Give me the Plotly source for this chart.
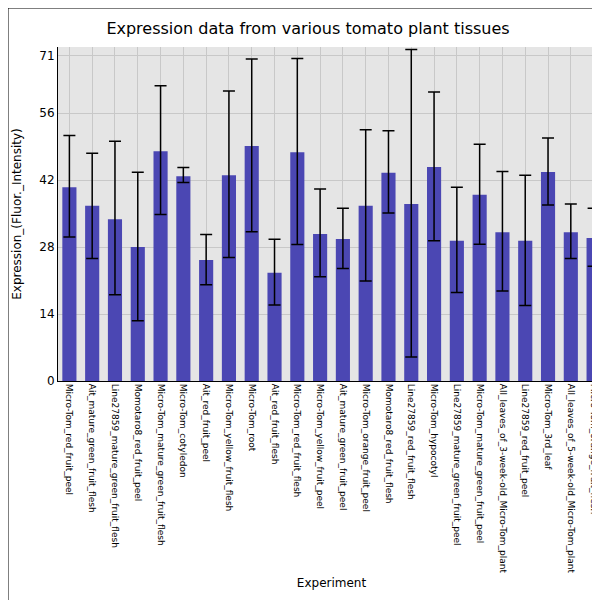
import plotly.graph_objects as go

# Data
tissues = [
    "Micro-Tom_red_fruit_peel", "Ait_mature_green_fruit_flesh", "Line27859_mature_green_fruit_flesh",
    "Momotaro8_red_fruit_peel", "Micro-Tom_mature_green_fruit_flesh", "Micro-Tom_cotyledon",
    "Ait_red_fruit_peel", "Micro-Tom_yellow_fruit_flesh", "Micro-Tom_root", "Ait_red_fruit_flesh",
    "Micro-Tom_red_fruit_flesh", "Micro-Tom_yellow_fruit_peel", "Ait_mature_green_fruit_peel",
    "Micro-Tom_orange_fruit_peel", "Momotaro8_red_fruit_flesh", "Line27859_red_fruit_flesh",
    "Micro-Tom_hypocotyl", "Line27859_mature_green_fruit_peel", "Micro-Tom_mature_green_fruit_peel",
    "All_leaves_of_3-week-old_Micro-Tom_plant", "Line27859_red_fruit_peel", "Micro-Tom_3rd_leaf",
    "All_leaves_of_5-week-old_Micro-Tom_plant", "Micro-Tom_orange_fruit_flesh",
]
expression = [40.5, 36.6, 33.8, 28.0, 48.0, 42.8, 25.3, 43.0, 49.1, 22.6, 47.8, 30.7,
              29.7, 36.6, 43.5, 37.0, 44.7, 29.3, 38.9, 31.1, 29.3, 43.7, 31.1, 29.9]
err_high = [51.3, 47.6, 50.1, 43.6, 61.7, 44.6, 30.6, 60.6, 67.3, 29.6, 67.4, 40.1,
            36.1, 52.5, 52.3, 69.3, 60.4, 40.5, 49.5, 43.8, 43.0, 50.8, 37.0, 36.1]
err_low = [30.1, 25.6, 18.0, 12.6, 34.8, 41.5, 20.1, 25.8, 31.2, 15.9, 28.5, 21.8,
           23.5, 20.9, 35.1, 5.0, 29.3, 18.5, 28.6, 18.8, 15.8, 36.8, 25.6, 24.0]

plus = [h - v for h, v in zip(err_high, expression)]
minus = [v - l for v, l in zip(expression, err_low)]

fig = go.Figure(go.Bar(
    x=tissues, y=expression,
    marker_color="#4b47b3", marker_line_width=0, width=0.62,
    error_y=dict(type="data", symmetric=False, array=plus, arrayminus=minus,
                 color="black", thickness=1.5, width=6),
))

fig.update_layout(
    title=dict(text="Expression data from various tomato plant tissues", x=0.5, y=0.975,
               font=dict(size=16, color="black")),
    width=600, height=600,
    margin=dict(l=50, r=3, t=39, b=227),
    plot_bgcolor="#e5e5e5", paper_bgcolor="white",
    font=dict(family="DejaVu Sans", color="black"),
    showlegend=False,
    shapes=[dict(type="rect", xref="paper", yref="paper", x0=-50/547, x1=1 + 3/547,
                 y0=-227/334, y1=1 + 39/334, line=dict(color="black", width=1))],
)
fig.update_xaxes(
    title=dict(text="Experiment", font=dict(size=12), standoff=6),
    tickangle=90, tickfont=dict(size=9), showgrid=True, gridcolor="#c8c8c8",
    showline=True, linecolor="black", linewidth=1, ticks="",
)
fig.update_yaxes(
    title=dict(text="Expression_(Fluor._Intensity)", font=dict(size=12)),
    range=[0, 69.8], tickvals=[0, 14, 28, 42, 56, 68],
    ticktext=["0", "14", "28", "42", "56", "71"], tickfont=dict(size=12),
    showgrid=True, gridcolor="#c8c8c8", zeroline=False,
    showline=True, linecolor="black", linewidth=1,
)

fig.write_html("out.html")
